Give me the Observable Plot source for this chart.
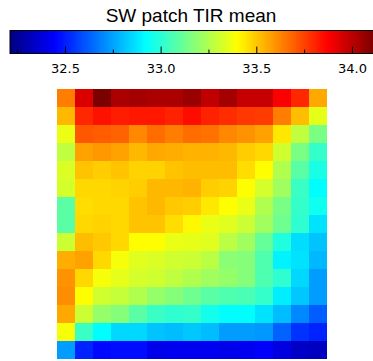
<!DOCTYPE html>
<html>
<head>
<meta charset="utf-8">
<script src="https://cdn.jsdelivr.net/npm/d3@7"></script>
<script src="https://cdn.jsdelivr.net/npm/@observablehq/plot@0.6"></script>
<style>
  html, body { margin: 0; padding: 0; background: #fff; }
  #chart { position: relative; width: 373px; height: 361px; overflow: hidden; background: #fff; }
  #title { position: absolute; left: 0; width: 382px; top: 5px; text-align: center;
           font: 19px "Liberation Sans", sans-serif; color: #000; line-height: 22px; }
  #bar { position: absolute; left: 0; top: 0; }
  #map { position: absolute; left: 0; top: 80px; }
</style>
</head>
<body>
<div id="chart">
  <div id="bar"></div>
  <div id="map"></div>
  <div id="title">SW patch TIR mean</div>
</div>
<script>
// Mean TIR over the SW patch, 15 x 15 grid, rows listed top to bottom
const tirMean = [
  [33.64, 33.94, 34.12, 34.03, 34.04, 34.03, 34.03, 34.06, 33.99, 34.04, 33.98, 33.98, 33.88, 33.80, 33.56],
  [33.53, 33.80, 33.84, 33.82, 33.83, 33.83, 33.81, 33.85, 33.81, 33.79, 33.77, 33.76, 33.64, 33.52, 33.35],
  [33.36, 33.71, 33.70, 33.69, 33.62, 33.67, 33.64, 33.67, 33.66, 33.62, 33.60, 33.57, 33.44, 33.28, 33.15],
  [33.28, 33.57, 33.59, 33.57, 33.53, 33.56, 33.55, 33.54, 33.54, 33.53, 33.49, 33.47, 33.31, 33.15, 33.02],
  [33.33, 33.51, 33.49, 33.51, 33.48, 33.48, 33.51, 33.52, 33.52, 33.52, 33.46, 33.40, 33.25, 33.09, 32.97],
  [33.32, 33.47, 33.47, 33.48, 33.49, 33.53, 33.53, 33.54, 33.49, 33.48, 33.40, 33.32, 33.22, 33.03, 32.92],
  [33.09, 33.46, 33.47, 33.47, 33.51, 33.53, 33.50, 33.49, 33.44, 33.40, 33.36, 33.25, 33.15, 33.02, 32.95],
  [33.09, 33.47, 33.48, 33.47, 33.51, 33.51, 33.46, 33.41, 33.36, 33.34, 33.30, 33.22, 33.13, 33.01, 32.87],
  [33.30, 33.52, 33.50, 33.47, 33.40, 33.40, 33.36, 33.35, 33.34, 33.27, 33.22, 33.11, 32.98, 32.86, 32.81],
  [33.55, 33.57, 33.47, 33.38, 33.34, 33.33, 33.31, 33.30, 33.27, 33.18, 33.17, 33.07, 32.90, 32.87, 32.79],
  [33.60, 33.47, 33.38, 33.35, 33.32, 33.31, 33.28, 33.25, 33.22, 33.20, 33.17, 33.07, 33.01, 32.85, 32.74],
  [33.61, 33.40, 33.31, 33.29, 33.25, 33.20, 33.17, 33.13, 33.09, 33.07, 33.06, 33.02, 32.89, 32.82, 32.74],
  [33.56, 33.30, 33.20, 33.17, 33.09, 33.03, 33.01, 33.02, 32.96, 32.92, 32.92, 32.87, 32.80, 32.70, 32.62],
  [33.38, 33.03, 32.92, 32.85, 32.85, 32.81, 32.80, 32.82, 32.80, 32.74, 32.74, 32.73, 32.63, 32.54, 32.51],
  [32.74, 32.51, 32.46, 32.47, 32.47, 32.41, 32.42, 32.42, 32.42, 32.41, 32.42, 32.44, 32.39, 32.34, 32.33]
];

// Colour bar range and tick positions
const colorRange = [32.21, 34.11];
const majorTicks = [32.5, 33.0, 33.5, 34.0];
const minorTicks = [32.25, 32.75, 33.25, 33.75];

// Jet colour table as a piecewise linear scale
const jetStops = [0, 0.125, 0.375, 0.625, 0.875, 1];
const jetColors = ["#000080", "#0000ff", "#00ffff", "#ffff00", "#ff0000", "#800000"];
const [vmin, vmax] = colorRange;
const jet = {
  type: "linear",
  domain: jetStops.map(t => vmin + t * (vmax - vmin)),
  range: jetColors,
  interpolate: "rgb"
};

const plotStyle = {background: "transparent", maxWidth: "none", overflow: "visible"};

// Colour bar: thin slices spanning the scale, with ticks and labels
const nSlices = 380;
const sliceW = (vmax - vmin) / nSlices;
const slices = d3.range(nSlices).map(i => vmin + i * sliceW);

const bar = Plot.plot({
  width: 374,
  height: 80,
  marginLeft: 9.5,
  marginRight: 1,
  marginTop: 30,
  marginBottom: 27,
  style: plotStyle,
  x: {domain: colorRange, axis: null},
  y: {domain: [0, 1], axis: null},
  color: jet,
  marks: [
    Plot.rect(slices, {x1: d => d, x2: d => d + sliceW * 1.2, y1: 0, y2: 1, fill: d => d + sliceW / 2, shapeRendering: "crispEdges"}),
    Plot.ruleX(minorTicks, {x: d => d, y1: 0, y2: 0.15, stroke: "#000", strokeWidth: 1}),
    Plot.ruleX(majorTicks, {x: d => d, y1: 0, y2: 0.28, stroke: "#000", strokeWidth: 1}),
    Plot.frame({stroke: "#000", strokeWidth: 1}),
    Plot.text(majorTicks, {x: d => d, y: 0, dy: 15, text: d => d.toFixed(1), fontSize: 13,
      fontFamily: "DejaVu Sans, sans-serif", fill: "#000", letterSpacing: 0.8, lineAnchor: "middle"})
  ]
});
document.getElementById("bar").appendChild(bar);

// Heatmap of the grid
const cells = tirMean.flatMap((row, r) => row.map((v, c) => ({row: r, col: c, v})));

const map = Plot.plot({
  width: 373,
  height: 281,
  marginLeft: 55,
  marginRight: 44,
  marginTop: 6.7,
  marginBottom: 0.2,
  style: plotStyle,
  x: {axis: null, padding: 0},
  y: {axis: null, padding: 0},
  color: jet,
  marks: [
    Plot.cell(cells, {x: "col", y: "row", fill: "v", shapeRendering: "crispEdges"})
  ]
});
document.getElementById("map").appendChild(map);
</script>
</body>
</html>
